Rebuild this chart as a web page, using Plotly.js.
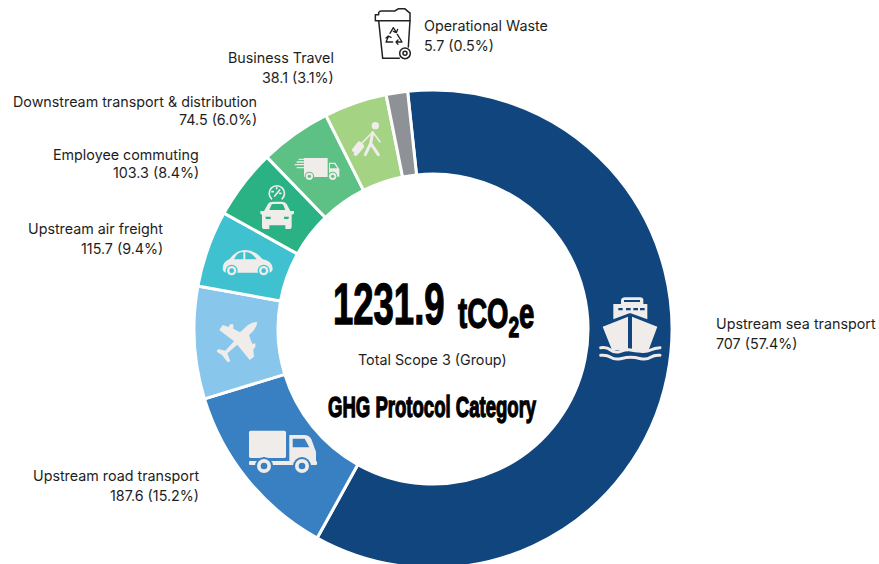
<!DOCTYPE html>
<html>
<head>
<meta charset="utf-8">
<script src="https://cdn.plot.ly/plotly-3.0.1.min.js"></script>
<style>
html,body{margin:0;padding:0;background:#fff;overflow:hidden;width:879px;height:564px}
#wrap{width:879px;height:564px;overflow:hidden}
text[style*="Liberation Sans"]{stroke:#000;stroke-width:1.3px;transform-box:fill-box;transform-origin:center;transform:scaleX(.64)}
</style>
</head>
<body>
<div id="wrap"><div id="chart"></div></div>
<script>
// Ring slices as drawn in the picture (share of the circle, %)
const sliceNames = ['Sea','Road','Plane','Car','Commute','Van','Walker','Bin'];
const sliceShares = [59.75,12.22,7.61,5.17,4.72,4.83,4.25,1.45];
const sliceColors = ['#10457E','#3880C2','#88C6EC','#40C1D0','#2AB184','#5DC085','#A5D384','#8E9196'];

// Printed labels
const categories = ['Upstream sea transport','Upstream road transport','Upstream air freight','Employee commuting','Downstream transport & distribution','Business Travel','Operational Waste'];
const amounts = ['707','187.6','115.7','103.3','74.5','38.1','5.7'];
const percents = ['57.4','15.2','9.4','8.4','6.0','3.1','0.5'];
const labelX = [715,200,164,200,258,335,423];
const nameY = [323.5,475.5,228.5,154.5,101.5,57.5,25.5];
const valueY = [343.5,495.5,248.5,172.5,119.5,77.5,45.5];
const labelAnchor = ['left','right','right','right','right','right','left'];

const W = 879, H = 570;
const cx = 433, cy = 329, R = 239;
const ink = '#F0ECEA';

function svgUri(vb, inner){
  const s = '<svg xmlns="http://www.w3.org/2000/svg" viewBox="'+vb.join(' ')+'">'+inner+'</svg>';
  return 'data:image/svg+xml;charset=utf-8,'+encodeURIComponent(s);
}
function icon(ox, oy, vb, inner){
  return {source:svgUri(vb,inner), xref:'paper', yref:'paper', xanchor:'left', yanchor:'top',
    x:(ox+vb[0]/3)/W, y:1-(oy+vb[1]/3)/H, sizex:vb[2]/3/W, sizey:vb[3]/3/H, sizing:'stretch', layer:'above'};
}
const ship = '<path fill="'+ink+'" d="M70 118V72H93V60Q95 52 105 52H150Q160 52 160 60V72H172V118L122 100L118 100Z"/>'
 +'<path fill="#10457E" d="M102 60H150V66H102ZM85 84H98V91H85ZM108 84H122V91H108ZM130 84H144V91H130ZM150 84H164V91H150Z"/>'
 +'<path fill="'+ink+'" d="M38 140L114 110V210H66ZM126 110L202 140L176 210H126Z"/>'
 +'<path fill="none" stroke="'+ink+'" stroke-width="9" stroke-linecap="round" d="M32 203Q50 200 62 210T92 214T122 210T152 214T182 210T210 203M32 226Q50 224 62 232T92 236T122 232T152 236T182 232T210 226"/>';
const truck = '<rect x="207" y="332" width="111" height="82" rx="5" fill="'+ink+'"/>'
 +'<rect x="207" y="423" width="204" height="12" rx="3" fill="'+ink+'"/>'
 +'<path fill="'+ink+'" d="M328 345H372Q388 345 394 358L408 395V425H328Z"/>'
 +'<path fill="#3880C2" d="M338 356H374L388 382H338Z"/>'
 +'<circle cx="252" cy="438" r="27" fill="#3880C2"/><circle cx="252" cy="438" r="21" fill="'+ink+'"/><circle cx="252" cy="438" r="10" fill="#3880C2"/>'
 +'<circle cx="366" cy="438" r="27" fill="#3880C2"/><circle cx="366" cy="438" r="21" fill="'+ink+'"/><circle cx="366" cy="438" r="10" fill="#3880C2"/>';
const plane = '<path fill="'+ink+'" d="M232 7Q230 25 207 46L217 72L226 70L226 82L220 88L222 110L209 120L172 74L142 100L151 124L143 127L126 105L110 95L114 87L136 92L162 64L118 30L128 15L146 21L150 13L160 13L160 26L180 37L204 15Q222 4 232 7Z"/>';
const car = '<path fill="'+ink+'" d="M128 565Q128 545 150 536Q168 510 195 510Q225 510 247 537Q276 542 278 565Q278 576 268 578H138Q128 576 128 565Z"/>'
 +'<path fill="#40C1D0" d="M162 538Q170 517 190 516V538ZM196 516Q215 516 230 538H196Z"/>'
 +'<circle cx="155" cy="572" r="18" fill="#40C1D0"/><circle cx="155" cy="572" r="14" fill="'+ink+'"/><circle cx="155" cy="572" r="7" fill="#40C1D0"/>'
 +'<circle cx="251" cy="572" r="18" fill="#40C1D0"/><circle cx="251" cy="572" r="14" fill="'+ink+'"/><circle cx="251" cy="572" r="7" fill="#40C1D0"/>';
const commute = '<path fill="none" stroke="'+ink+'" stroke-width="5" d="M276 358A23 23 0 1 1 305 358"/>'
 +'<path stroke="'+ink+'" stroke-width="5" stroke-linecap="round" d="M284 348L299 330M276 335H280M290 322V326M303 340H299"/>'
 +'<path fill="'+ink+'" d="M241 393H252L264 372Q268 365 280 365H304Q315 365 320 372L331 393H342V401L335 404V440Q335 447 327 447H316V436H268V447H254Q246 447 246 440V404L241 401Z"/>'
 +'<path fill="#2AB184" d="M268 390L274 375Q276 372 280 372H304Q308 372 310 375L316 390ZM256 410H272V417H258ZM312 410H327L325 417H312Z"/>';
const van = '<path stroke="'+ink+'" stroke-width="4" d="M356 238H385M350 246H385M344 254H385M350 263H385"/>'
 +'<path fill="'+ink+'" d="M372 234H443V291H372Z"/><path fill="'+ink+'" d="M447 248H466L478 268V290H447Z"/>'
 +'<path fill="#5DC085" d="M450 252H463L472 265H450Z"/>'
 +'<circle cx="388" cy="289" r="14" fill="#5DC085"/><circle cx="388" cy="289" r="11" fill="'+ink+'"/><circle cx="388" cy="289" r="5" fill="#5DC085"/>'
 +'<circle cx="458" cy="289" r="14" fill="#5DC085"/><circle cx="458" cy="289" r="11" fill="'+ink+'"/><circle cx="458" cy="289" r="5" fill="#5DC085"/>';
const walker = '<circle cx="586" cy="137" r="11" fill="'+ink+'"/>'
 +'<path fill="none" stroke="'+ink+'" stroke-width="9" stroke-linecap="round" stroke-linejoin="round" d="M578 158L572 190L556 224M572 190L595 224"/>'
 +'<path fill="none" stroke="'+ink+'" stroke-width="5" stroke-linecap="round" d="M578 156L600 185M578 156L555 180L540 195"/>'
 +'<path fill="'+ink+'" d="M516 208L534 185Q538 182 542 186L552 195Q554 200 551 203L535 222Q530 224 527 221L517 214Z"/><circle cx="527" cy="222" r="6" fill="'+ink+'"/>';
const bin = '<g fill="none" stroke="#222" stroke-width="4.5" stroke-linejoin="round" stroke-linecap="round">'
 +'<path d="M46 62V44H56V38Q58 33 64 33H104L116 26H134L148 38H150V62H46Z"/>'
 +'<path d="M56 62L68 175H118M150 62L145 141"/>'
 +'<circle cx="135" cy="160" r="16"/><circle cx="135" cy="160" r="6"/>'
 +'<path stroke-width="4" d="M90 100L100 83L107 94M100 94L109 98L113 88M112 103L126 126L110 126M114 120L108 126L114 133M98 126H78L85 110M78 114L85 108L93 112"/></g>';

const images = [
  icon(590,280,[20,40,200,210],ship),
  icon(180,320,[200,325,220,140],truck),
  icon(180,320,[105,0,130,130],plane),
  icon(180,80,[125,505,156,90],car),
  icon(180,80,[238,312,108,138],commute),
  icon(180,80,[342,230,138,72],van),
  icon(180,80,[512,124,96,106],walker),
  icon(360,0,[40,20,120,160],bin)
];

function note(text, x, y, font, anchor){
  return {text:text, xref:'paper', yref:'paper', x:x/W, y:1-y/H, xanchor:anchor, yanchor:'middle', align:anchor,
    showarrow:false, font:font, borderpad:0};
}
const body = {family:'Inter, sans-serif', size:14.3, color:'#1e1e1e'};
const heavy = s => ({family:'"Liberation Sans"', size:s, color:'#000000', weight:700});
const annotations = [];
categories.forEach((c,i)=>{
  annotations.push(note(c, labelX[i], nameY[i], body, labelAnchor[i]));
  annotations.push(note(amounts[i]+' ('+percents[i]+'%)', labelX[i], valueY[i], body, labelAnchor[i]));
});
annotations.push(
  note('1231.9', 388.5, 304, heavy(57), 'center'),
  note('tCO<sub>2</sub>e', 496, 316, heavy(43), 'center'),
  note('Total Scope 3 (Group)', 432.5, 359, body, 'center'),
  note('GHG Protocol Category', 432.5, 407, heavy(29), 'center')
);

Plotly.newPlot('chart',[{
  type:'pie', labels:sliceNames, values:sliceShares, sort:false, direction:'clockwise', rotation:-6.1,
  hole:155/R, textinfo:'none', hoverinfo:'skip',
  marker:{colors:sliceColors, line:{color:'#ffffff', width:3}},
  domain:{x:[(cx-R)/W,(cx+R)/W], y:[(H-cy-R)/H,(H-cy+R)/H]}, showlegend:false
}],{
  width:W, height:H, margin:{l:0,r:0,t:0,b:0}, paper_bgcolor:'#ffffff', showlegend:false,
  images:images, annotations:annotations
},{displayModeBar:false, staticPlot:true});
</script>
</body>
</html>
